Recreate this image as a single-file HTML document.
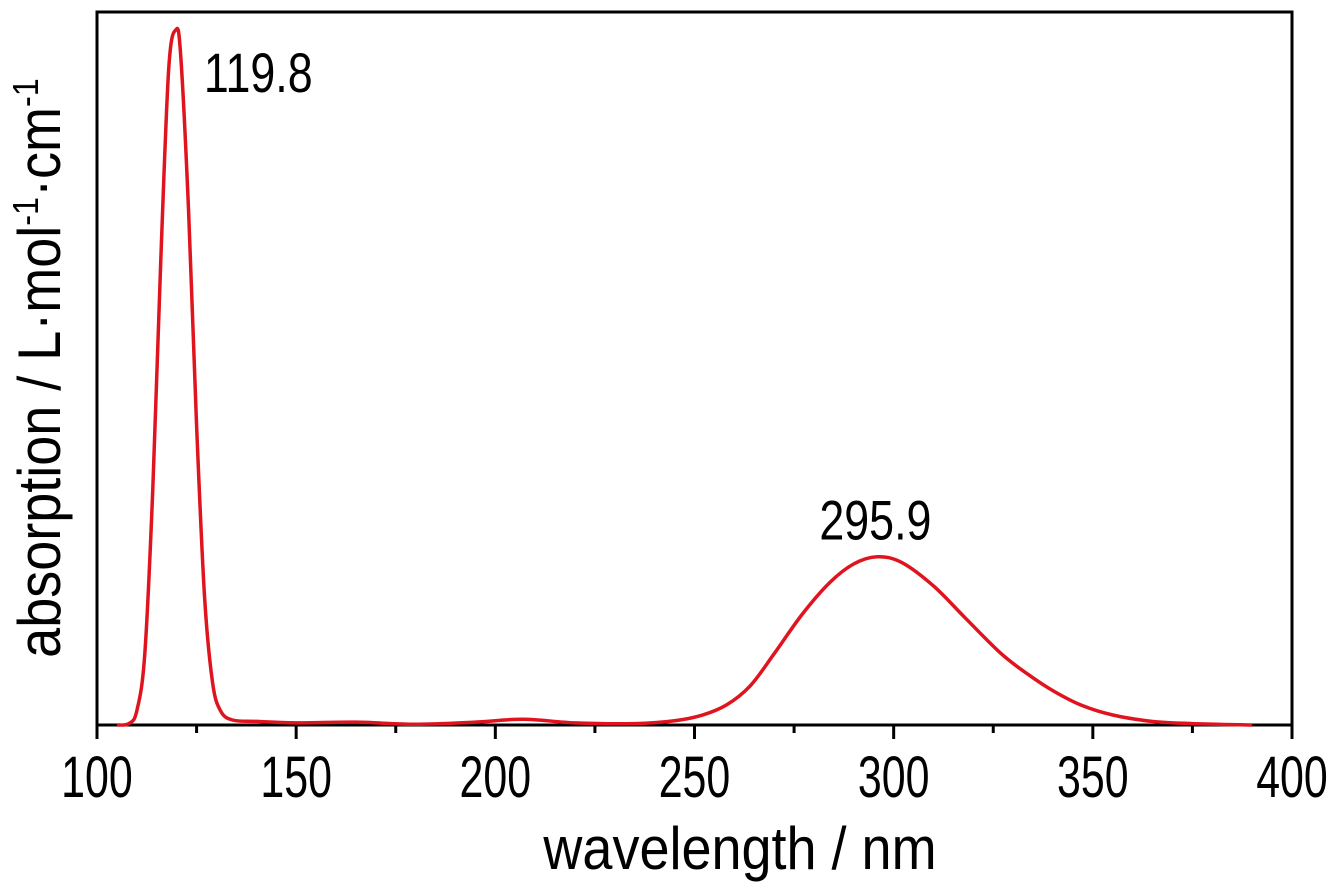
<!DOCTYPE html>
<html><head><meta charset="utf-8"><style>
body{margin:0;background:#fff}
svg text{font-family:"Liberation Sans",Arial,sans-serif;fill:#000}
</style></head><body>
<svg width="1341" height="883" viewBox="0 0 1341 883">
<g id="axes"></g>
<path id="curve" fill="none" stroke="#e0141e" stroke-width="3.5"/>
<g id="labels"></g>
</svg>
<script>
const xTicks=[100,150,200,250,300,350,400];
const xMinor=[125,175,225,275,325,375];
const wavelengths=[105,108,110,112,114,116,118,119.8,121,123,125,127,129,131,134,140,150,165,180,195,207,220,235,245,252,258,264,270,277,284,290,295.9,302,310,318,327,334,340,347,355,365,375,390];
const absorbance=[0,0.002,0.02,0.10,0.33,0.65,0.92,0.975,0.94,0.72,0.42,0.18,0.06,0.02,0.007,0.005,0.003,0.004,0.001,0.004,0.008,0.003,0.002,0.006,0.014,0.028,0.055,0.1,0.155,0.2,0.226,0.236,0.228,0.195,0.15,0.1,0.07,0.048,0.028,0.014,0.005,0.002,0];
const peakLabels=["119.8","295.9"];
const peakX=[119.8,295.9];
const NS="http://www.w3.org/2000/svg";
const L=97,R=1292,T=12,B=725;
const xs=v=>L+(v-100)/300*(R-L);
const ys=v=>B-v*(B-T);
function mk(tag,attrs,parent){const e=document.createElementNS(NS,tag);for(const k in attrs)e.setAttribute(k,attrs[k]);parent.appendChild(e);return e;}
const ax=document.getElementById('axes'),lb=document.getElementById('labels');
let fr=mk('rect',{x:L,y:T,width:R-L,height:B-T,fill:'none',stroke:'#000','stroke-width':3},ax);


xTicks.forEach(v=>{
 let t=mk('line',{x1:xs(v),x2:xs(v),y1:B,y2:B+14,stroke:'#000','stroke-width':3},ax);
 
 
 let tx=mk('text',{x:xs(v),y:797,'text-anchor':'middle','font-size':58,transform:`translate(${xs(v)},0) scale(0.74,1) translate(${-xs(v)},0)`},lb);
 tx.textContent=v;
 
 
});
xMinor.forEach(v=>{
 let t=mk('line',{x1:xs(v),x2:xs(v),y1:B,y2:B+8,stroke:'#000','stroke-width':3},ax);
 
 
});
const P=wavelengths.map((w,i)=>[xs(w),ys(absorbance[i])]);
let d=`M${P[0][0]},${P[0][1]}`;
for(let i=0;i<P.length-1;i++){
 const p0=P[Math.max(0,i-1)],p1=P[i],p2=P[i+1],p3=P[Math.min(P.length-1,i+2)];
 const c1=[p1[0]+(p2[0]-p0[0])/6,p1[1]+(p2[1]-p0[1])/6],c2=[p2[0]-(p3[0]-p1[0])/6,p2[1]-(p3[1]-p1[1])/6];
 d+=`C${c1[0]},${c1[1]} ${c2[0]},${c2[1]} ${p2[0]},${p2[1]}`;
}
document.getElementById('curve').setAttribute('d',d);
peakLabels.forEach((s,i)=>{
 const idx=wavelengths.indexOf(peakX[i]);
 const px=xs(peakX[i]),py=ys(absorbance[idx]);
 const x=i===0?px+28:px-58,y=i===0?py+62:py-17;
 let t=mk('text',{x:x,y:y,'font-size':56,transform:`translate(${x},0) scale(0.8,1) translate(${-x},0)`},lb);
 t.textContent=s;
 
 
});
let xt=mk('text',{x:740,y:869,'text-anchor':'middle','font-size':60,transform:'translate(740,0) scale(0.9,1) translate(-740,0)'},lb);
xt.textContent='wavelength / nm';


let yt=mk('text',{x:0,y:0,'text-anchor':'middle','font-size':60,transform:'translate(60,368) rotate(-90) scale(0.9,1)'},lb);
yt.innerHTML='absorption / L·mol<tspan dy="-22" font-size="36">-1</tspan><tspan dy="22">·cm</tspan><tspan dy="-22" font-size="36">-1</tspan>';


</script>
</body></html>
